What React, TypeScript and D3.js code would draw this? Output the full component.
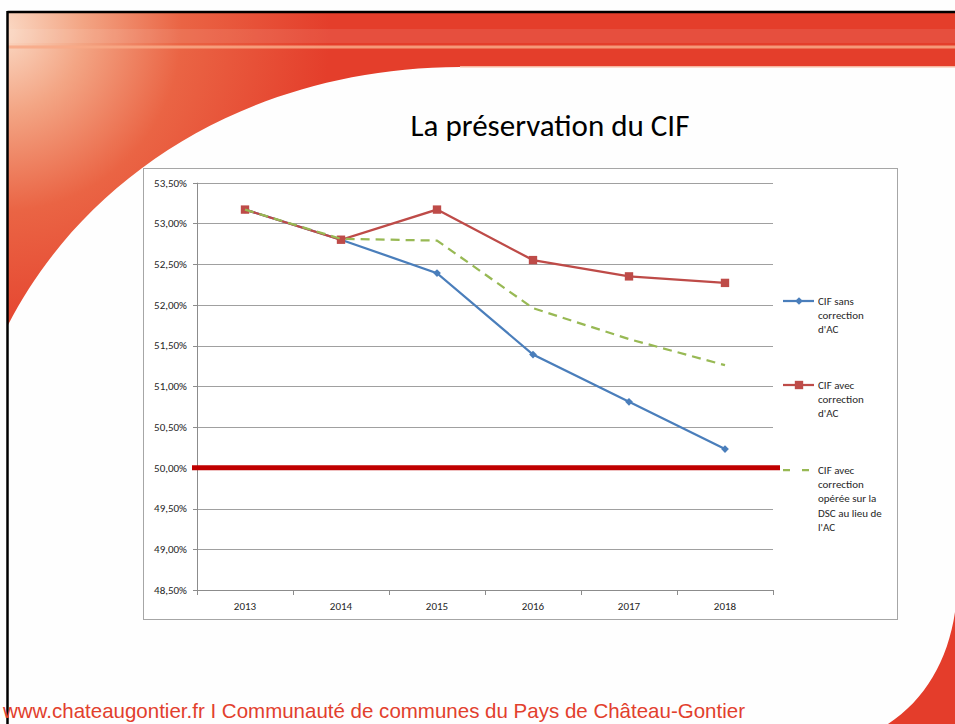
import * as d3 from "d3";
import React, { useEffect, useRef } from "react";

// données
const years = ["2013", "2014", "2015", "2016", "2017", "2018"];
const cifSansCorrection = [53.17, 52.8, 52.39, 51.39, 50.81, 50.23];
const cifAvecCorrection = [53.17, 52.8, 53.17, 52.55, 52.35, 52.27];
const cifCorrectionDsc = [53.17, 52.81, 52.79, 51.96, 51.58, 51.26];
const yTicks = [48.5, 49, 49.5, 50, 50.5, 51, 51.5, 52, 52.5, 53, 53.5];
const seuil = 50;

const legendSans = ["CIF sans", "correction", "d'AC"];
const legendAvec = ["CIF avec", "correction", "d'AC"];
const legendDsc = ["CIF avec", "correction", "opérée sur la", "DSC au lieu de", "l'AC"];

const title = "La préservation du CIF";
const footer = "www.chateaugontier.fr I Communauté de communes du Pays de Château-Gontier";

const W = 955;
const H = 724;
const FONT = "Carlito, Calibri, Lato, sans-serif";

export default function App() {
  const svgRef = useRef<SVGSVGElement | null>(null);

  useEffect(() => {
    if (!svgRef.current) return;
    const svg = d3.select(svgRef.current);
    svg.selectAll("*").remove();

    const defs = svg.append("defs");
    const grad = defs
      .append("radialGradient")
      .attr("id", "swoosh")
      .attr("gradientUnits", "userSpaceOnUse")
      .attr("cx", 0)
      .attr("cy", 30)
      .attr("r", 330);
    grad.append("stop").attr("offset", 0).attr("stop-color", "#fbdcc8");
    grad.append("stop").attr("offset", 0.25).attr("stop-color", "#f3a584");
    grad.append("stop").attr("offset", 0.55).attr("stop-color", "#ea6444");
    grad.append("stop").attr("offset", 1).attr("stop-color", "#e43e2b");

    // fond de la diapo
    svg.append("rect").attr("width", W).attr("height", H).attr("fill", "#fefefe");

    // bandeau rouge + courbe à gauche
    svg
      .append("path")
      .attr("d", `M8,12 L${W},12 L${W},67 L460,67 C250,68 85,175 8,325 Z`)
      .attr("fill", "url(#swoosh)");

    // rayures du bandeau
    svg.append("rect").attr("x", 8).attr("y", 29).attr("width", W).attr("height", 14)
      .attr("fill", "#ffffff").attr("opacity", 0.09);
    svg.append("rect").attr("x", 8).attr("y", 45.5).attr("width", W).attr("height", 3)
      .attr("fill", "#f8a987").attr("opacity", 0.85);
    svg.append("rect").attr("x", 460).attr("y", 66).attr("width", W - 460).attr("height", 1.5)
      .attr("fill", "#f6b7a0");

    // coin bas droit
    svg
      .append("path")
      .attr("d", `M${W},612 C948,660 925,700 888,${H} L${W},${H} Z`)
      .attr("fill", "#e43d2b");

    // bordure noire
    svg.append("line").attr("x1", 7.5).attr("x2", W).attr("y1", 12).attr("y2", 12)
      .attr("stroke", "#000").attr("stroke-width", 2.5);
    svg.append("line").attr("x1", 7.5).attr("x2", 7.5).attr("y1", 11).attr("y2", H)
      .attr("stroke", "#000").attr("stroke-width", 2.5);

    // titre
    svg.append("text")
      .attr("x", 550).attr("y", 136)
      .attr("text-anchor", "middle")
      .style("font-family", FONT)
      .style("font-size", "31px")
      .attr("fill", "#000")
      .text(title);

    // pied de page
    svg.append("text")
      .attr("x", 3).attr("y", 718)
      .attr("textLength", 742)
      .attr("lengthAdjust", "spacingAndGlyphs")
      .style("font-family", "'Liberation Sans Narrow', 'Liberation Sans', Arial, sans-serif")
      .style("font-size", "21px")
      .attr("fill", "#e2402d")
      .text(footer);

    // cadre du graphique
    svg.append("rect")
      .attr("x", 143.5).attr("y", 168.5).attr("width", 754).attr("height", 451)
      .attr("fill", "#ffffff").attr("stroke", "#a6a6a6");

    const x = d3.scaleBand().domain(years).range([197, 773]);
    const y = d3.scaleLinear().domain([48.5, 53.5]).range([590, 182.7]);
    const cx = (i: number) => (x(years[i]) ?? 0) + x.bandwidth() / 2;

    const g = svg.append("g").style("font-family", FONT);

    // grille
    g.selectAll(".grid")
      .data(yTicks.slice(1))
      .join("line")
      .attr("x1", 197).attr("x2", 773)
      .attr("y1", d => Math.round(y(d)) + 0.5).attr("y2", d => Math.round(y(d)) + 0.5)
      .attr("stroke", "#a0a0a0");

    // axe Y
    g.append("line").attr("x1", 197.5).attr("x2", 197.5).attr("y1", y(53.5)).attr("y2", 590)
      .attr("stroke", "#8c8c8c");
    g.selectAll(".ytick")
      .data(yTicks)
      .join("line")
      .attr("x1", 193).attr("x2", 197)
      .attr("y1", d => Math.round(y(d)) + 0.5).attr("y2", d => Math.round(y(d)) + 0.5)
      .attr("stroke", "#8c8c8c");
    g.selectAll(".ylab")
      .data(yTicks)
      .join("text")
      .attr("x", 187).attr("y", d => y(d))
      .attr("dy", "0.35em")
      .attr("text-anchor", "end")
      .style("font-size", "11px")
      .attr("fill", "#262626")
      .text(d => d3.format(".2f")(d).replace(".", ",") + "%");

    // axe X
    g.append("line").attr("x1", 197).attr("x2", 773).attr("y1", 590.5).attr("y2", 590.5)
      .attr("stroke", "#8c8c8c");
    g.selectAll(".xtick")
      .data(d3.range(years.length + 1))
      .join("line")
      .attr("x1", i => 197 + i * x.bandwidth() + 0.5).attr("x2", i => 197 + i * x.bandwidth() + 0.5)
      .attr("y1", 590).attr("y2", 595)
      .attr("stroke", "#8c8c8c");
    g.selectAll(".xlab")
      .data(years)
      .join("text")
      .attr("x", (_, i) => cx(i)).attr("y", 610)
      .attr("text-anchor", "middle")
      .style("font-size", "11px")
      .attr("fill", "#262626")
      .text(d => d);

    // seuil 50%
    g.append("line")
      .attr("x1", 192).attr("x2", 780)
      .attr("y1", y(seuil)).attr("y2", y(seuil))
      .attr("stroke", "#c00000").attr("stroke-width", 5);

    const line = d3.line<number>().x((_, i) => cx(i)).y(d => y(d));
    const diamond = d3.symbol().type(d3.symbolSquare).size(30);
    const square = d3.symbol().type(d3.symbolSquare).size(70);

    // CIF sans correction
    g.append("path").attr("d", line(cifSansCorrection)).attr("fill", "none")
      .attr("stroke", "#4a7ebb").attr("stroke-width", 2.25);
    g.selectAll(".m1")
      .data(cifSansCorrection)
      .join("path")
      .attr("d", diamond())
      .attr("transform", (d, i) => `translate(${cx(i)},${y(d)}) rotate(45)`)
      .attr("fill", "#4a7ebb");

    // CIF avec correction
    g.append("path").attr("d", line(cifAvecCorrection)).attr("fill", "none")
      .attr("stroke", "#be4b48").attr("stroke-width", 2.25);
    g.selectAll(".m2")
      .data(cifAvecCorrection)
      .join("path")
      .attr("d", square())
      .attr("transform", (d, i) => `translate(${cx(i)},${y(d)})`)
      .attr("fill", "#be4b48");

    // CIF correction DSC
    g.append("path").attr("d", line(cifCorrectionDsc)).attr("fill", "none")
      .attr("stroke", "#98b954").attr("stroke-width", 2.25)
      .attr("stroke-dasharray", "9,6");

    // légende
    const legend = [
      { lines: legendSans, color: "#4a7ebb", sym: diamond, rot: 45, dash: null, y: 301 },
      { lines: legendAvec, color: "#be4b48", sym: square, rot: 0, dash: null, y: 385 },
      { lines: legendDsc, color: "#98b954", sym: null, rot: 0, dash: "7,12", y: 470 },
    ];
    const items = g.selectAll(".leg")
      .data(legend)
      .join("g")
      .attr("transform", d => `translate(783,${d.y})`);
    items.append("line")
      .attr("x1", 0).attr("x2", 31).attr("y1", 0).attr("y2", 0)
      .attr("stroke", d => d.color).attr("stroke-width", 2.25)
      .attr("stroke-dasharray", d => d.dash);
    items.filter(d => d.sym !== null)
      .append("path")
      .attr("d", d => d.sym!())
      .attr("transform", d => `translate(16,0) rotate(${d.rot})`)
      .attr("fill", d => d.color);
    items.each(function (d) {
      d3.select(this).selectAll("text")
        .data(d.lines)
        .join("text")
        .attr("x", 35)
        .attr("y", (_, i) => i * 14.3)
        .attr("dy", "0.35em")
        .style("font-size", "11px")
        .attr("fill", "#262626")
        .text(t => t);
    });
  }, []);

  return (
    <svg
      ref={svgRef}
      width={W}
      height={H}
      style={{ position: "absolute", left: 0, top: 0 }}
    ></svg>
  );
}
